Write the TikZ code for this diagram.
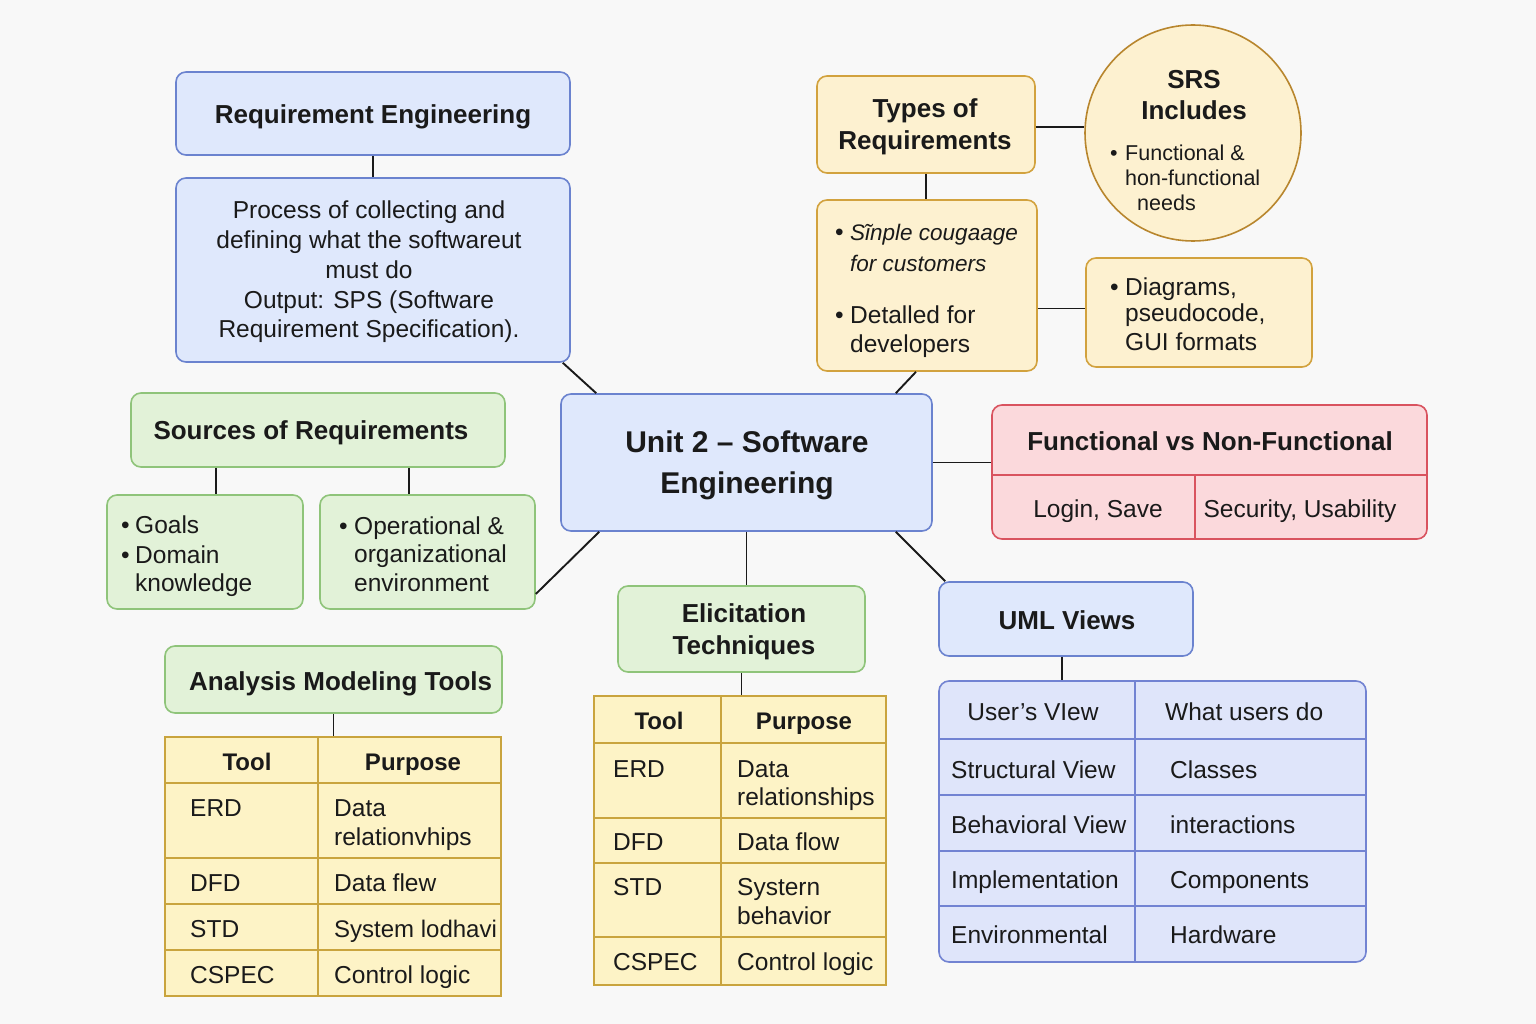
\documentclass[tikz,border=0pt]{standalone}
\usepackage{fontspec}
\setmainfont{Liberation Sans}
\usetikzlibrary{calc}

\definecolor{bg}{HTML}{F8F8F8}
\definecolor{bluefill}{HTML}{DFE8FC}
\definecolor{blueline}{HTML}{6B83CF}
\definecolor{greenfill}{HTML}{E2F2D8}
\definecolor{greenline}{HTML}{8FC47A}
\definecolor{yelfill}{HTML}{FDF1D0}
\definecolor{yelline}{HTML}{D2A23E}
\definecolor{srsline}{HTML}{B8862E}
\definecolor{tabfill}{HTML}{FDF3C6}
\definecolor{tabline}{HTML}{C9A43E}
\definecolor{pinkfill}{HTML}{FBD9DC}
\definecolor{pinkline}{HTML}{D9535F}
\definecolor{umlfill}{HTML}{DFE5FA}
\definecolor{umlline}{HTML}{7283D2}
\definecolor{ink}{HTML}{1A1A1A}

\newcommand\headfont{\fontsize{26}{32}\selectfont\bfseries}
\newcommand\bodyfont{\fontsize{24.5}{29.5}\selectfont}
\newcommand\smallbody{\fontsize{21.5}{25}\selectfont}

\tikzset{
  box/.style={draw, rounded corners=10pt, line width=1.6pt, inner sep=0pt, align=center, text=ink},
  bluebox/.style={box, fill=bluefill, draw=blueline},
  greenbox/.style={box, fill=greenfill, draw=greenline},
  yelbox/.style={box, fill=yelfill, draw=yelline},
  pinkbox/.style={box, fill=pinkfill, draw=pinkline},
  tablebox/.style={draw=tabline, fill=tabfill, line width=1.6pt, inner sep=0pt},
  umltable/.style={draw=umlline, fill=umlfill, line width=1.6pt, rounded corners=10pt, inner sep=0pt},
  link/.style={line width=1.9pt, draw=ink},
  head/.style={inner sep=0pt, font=\headfont, align=center, text=ink},
  lbl/.style={inner sep=0pt, anchor=base west, font=\bodyfont, text=ink},
  clbl/.style={inner sep=0pt, anchor=base, font=\bodyfont, text=ink},
  hlbl/.style={inner sep=0pt, anchor=base, font=\fontsize{24}{29}\selectfont\bfseries, text=ink},
  slbl/.style={inner sep=0pt, anchor=base west, font=\smallbody, text=ink},
}

\begin{document}
\begin{tikzpicture}[x=1pt,y=-1pt]
\fill[bg] (0,0) rectangle (1536,1024);
\useasboundingbox (0,0) rectangle (1536,1024);

% ---------- Requirement Engineering ----------
\node[bluebox, minimum width=394pt, minimum height=83pt] (re) at (373,113.5) {};
\node[head, anchor=base] (retext) at (373,123.5) {Requirement Engineering};
\node[bluebox, minimum width=394pt, minimum height=184pt] (proc) at (373,270) {};
\node[inner sep=0pt, align=center, font=\fontsize{24.5}{29.75}\selectfont, text=ink] (proctext) at (369,272)
  {Process of collecting and\\defining what the softwareut\\must do\\Output: SPS (Software\\Requirement Specification).};

% ---------- central topic ----------
\node[bluebox, minimum width=371pt, minimum height=137pt] (unit) at (746.5,462.5) {};
\node[inner sep=0pt, align=center, font=\fontsize{30}{41}\selectfont\bfseries, text=ink] (unittext) at (747,465)
  {Unit 2 – Software\\Engineering};

% ---------- Sources of Requirements ----------
\node[greenbox, minimum width=374pt, minimum height=74pt] (src) at (318,430) {};
\node[head, anchor=base] (srctext) at (311,439.5) {Sources of Requirements};
\node[greenbox, minimum width=196pt, minimum height=114pt] (goals) at (205,552) {};
\node[lbl] (g1b) at (121,533) {•};
\node[lbl] (g1) at (135,533) {Goals};
\node[lbl] (g2b) at (121,563) {•};
\node[lbl] (g2) at (135,563) {Domain};
\node[lbl] (g3) at (135,591) {knowledge};
\node[greenbox, minimum width=215pt, minimum height=114pt] (oper) at (427.5,552) {};
\node[lbl] (o1b) at (339,534) {•};
\node[lbl] (o1) at (354,534) {Operational \&};
\node[lbl] (o2) at (354,562) {organizational};
\node[lbl] (o3) at (354,591) {environment};

% ---------- Types of Requirements ----------
\node[yelbox, minimum width=218pt, minimum height=97pt] (types) at (926,124.5) {};
\node[head] (typestext) at (925,126.5) {Types of\\Requirements};
\node[yelbox, minimum width=220pt, minimum height=171pt] (simple) at (927,285.5) {};
\node[lbl] (s1b) at (835,241) {•};
\node[lbl, font=\fontsize{22.5}{27}\selectfont\itshape] (s1) at (850,241) {Sĩnple cougaage};
\node[lbl, font=\fontsize{22.5}{27}\selectfont\itshape] (s2) at (850,272) {for customers};
\node[lbl] (s3b) at (835,323) {•};
\node[lbl] (s3) at (850,323) {Detalled for};
\node[lbl] (s4) at (850,352) {developers};

\node[circle, draw=srsline, fill=yelfill, line width=1.6pt, minimum size=216pt, inner sep=0pt] (srs) at (1193,133) {};
\node[inner sep=0pt, align=center, font=\fontsize{26}{31}\selectfont\bfseries, text=ink] (srstitle) at (1194,95) {SRS\\Includes};
\node[slbl] (r1b) at (1110,160.5) {•};
\node[slbl] (r1) at (1125,160.5) {Functional \&};
\node[slbl] (r2) at (1125,185.5) {hon-functional};
\node[slbl] (r3) at (1137,210.5) {needs};

\node[yelbox, minimum width=226pt, minimum height=109pt] (diag) at (1199,312.5) {};
\node[lbl] (d1b) at (1110,295) {•};
\node[lbl] (d1) at (1125,295) {Diagrams,};
\node[lbl] (d2) at (1125,321) {pseudocode,};
\node[lbl] (d3) at (1125,350) {GUI formats};

% ---------- Functional vs Non-Functional ----------
\node[pinkbox, minimum width=435pt, minimum height=134pt] (func) at (1209.5,472) {};
\draw[pinkline, line width=1.4pt] (992,475) -- (1427,475);
\draw[pinkline, line width=1.4pt] (1195,475) -- (1195,539);
\node[head, anchor=base] (functext) at (1210,450.5) {Functional vs Non-Functional};
\node[clbl] (f1) at (1098,517) {Login, Save};
\node[clbl] (f2) at (1300,517) {Security, Usability};

% ---------- Elicitation Techniques ----------
\node[greenbox, minimum width=247pt, minimum height=86pt] (elic) at (741.5,629) {};
\node[head] (elictext) at (744,632) {Elicitation\\Techniques};
\node[tablebox, minimum width=292pt, minimum height=289pt] (elictab) at (740,840.5) {};
\foreach \yy in {743,818,863,937} \draw[tabline, line width=1.4pt] (594,\yy) -- (886,\yy);
\draw[tabline, line width=1.4pt] (721,696) -- (721,985);
\node[hlbl] (eh1) at (659,729) {Tool};
\node[hlbl] (eh2) at (804,729) {Purpose};
\node[lbl] (e1) at (613,777) {ERD};
\node[lbl] (e1p) at (737,777) {Data};
\node[lbl] (e1q) at (737,805) {relationships};
\node[lbl] (e2) at (613,850) {DFD};
\node[lbl] (e2p) at (737,850) {Data flow};
\node[lbl] (e3) at (613,895) {STD};
\node[lbl] (e3p) at (737,895) {Systern};
\node[lbl] (e3q) at (737,924) {behavior};
\node[lbl] (e4) at (613,970) {CSPEC};
\node[lbl] (e4p) at (737,970) {Control logic};

% ---------- Analysis Modeling Tools ----------
\node[greenbox, minimum width=337pt, minimum height=67pt] (amt) at (333.5,679.5) {};
\node[head, anchor=base west] (amttext) at (189,690.5) {Analysis Modeling Tools};
\node[tablebox, minimum width=336pt, minimum height=259pt] (amttab) at (333,866.5) {};
\foreach \yy in {783,858,904,950} \draw[tabline, line width=1.4pt] (165,\yy) -- (501,\yy);
\draw[tabline, line width=1.4pt] (318,737) -- (318,996);
\node[hlbl] (ah1) at (247,770) {Tool};
\node[hlbl] (ah2) at (413,770) {Purpose};
\node[lbl] (a1) at (190,816) {ERD};
\node[lbl] (a1p) at (334,816) {Data};
\node[lbl] (a1q) at (334,845) {relationvhips};
\node[lbl] (a2) at (190,891) {DFD};
\node[lbl] (a2p) at (334,891) {Data flew};
\node[lbl] (a3) at (190,937) {STD};
\node[lbl, font=\fontsize{24}{29}\selectfont] (a3p) at (334,937) {System lodhavi};
\node[lbl] (a4) at (190,983) {CSPEC};
\node[lbl] (a4p) at (334,983) {Control logic};

% ---------- UML Views ----------
\node[bluebox, minimum width=254pt, minimum height=74pt] (uml) at (1066,619) {};
\node[head, anchor=base] (umltext) at (1067,629.5) {UML Views};
\node[umltable, minimum width=427pt, minimum height=281pt] (umltab) at (1152.5,821.5) {};
\foreach \yy in {739,795,851,906} \draw[umlline, line width=1.4pt] (939,\yy) -- (1366,\yy);
\draw[umlline, line width=1.4pt] (1135,681) -- (1135,962);
\node[clbl] (u1) at (1033,720) {User’s VIew};
\node[lbl] (u1p) at (1165,720) {What users do};
\node[lbl] (u2) at (951,778) {Structural View};
\node[lbl] (u2p) at (1170,778) {Classes};
\node[lbl] (u3) at (951,833) {Behavioral View};
\node[lbl] (u3p) at (1170,833) {interactions};
\node[lbl] (u4) at (951,888) {Implementation};
\node[lbl] (u4p) at (1170,888) {Components};
\node[lbl] (u5) at (951,943) {Environmental};
\node[lbl] (u5p) at (1170,943) {Hardware};

% ---------- connectors ----------
\draw[link] (re.south) -- (proc.north);
\draw[link] ([xshift=-8pt]proc.south east) -- ([xshift=36pt]unit.north west);
\draw[link] ([xshift=11pt]goals.north |- src.south) -- ([xshift=11pt]goals.north);
\draw[link] ([xshift=-18.5pt]oper.north |- src.south) -- ([xshift=-18.5pt]oper.north);
\draw[link] ([xshift=39pt]unit.south west) -- ([yshift=-42pt]oper.east);
\draw[link] (types.south) -- (types.south |- simple.north);
\draw[link] ([yshift=-2.5pt]types.east) -- ([yshift=-2.5pt]types.east -| srs.west);
\draw[link] ([yshift=4pt]diag.west -| simple.east) -- ([yshift=4pt]diag.west);
\draw[link] ([xshift=-11pt]simple.south) -- ([xshift=-37pt]unit.north east);
\draw[link] (unit.east) -- (unit.east -| func.west);
\draw[link] (unit.south) -- (unit.south |- elic.north);
\draw[link] (elic.south) -- (elic.south |- elictab.north);
\draw[link] ([xshift=-37pt]unit.south east) -- ([xshift=7pt]uml.north west);
\draw[link] ([xshift=-4pt]uml.south) -- ([xshift=-4pt]uml.south |- umltab.north);
\draw[link] (amt.south) -- (amt.south |- amttab.north);
\end{tikzpicture}
\end{document}
